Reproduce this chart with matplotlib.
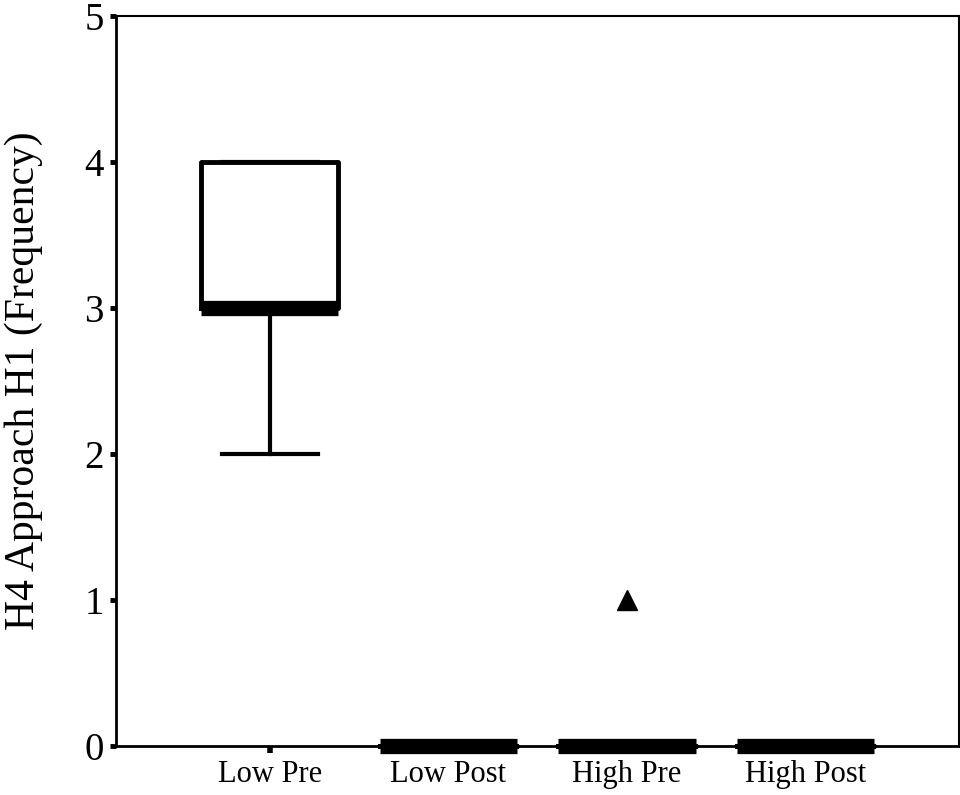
import matplotlib.pyplot as plt

groups = ['Low Pre', 'Low Post', 'High Pre', 'High Post']
q1 = [3, 0, 0, 0]
med = [3, 0, 0, 0]
q3 = [4, 0, 0, 0]
whislo = [2, 0, 0, 0]
whishi = [4, 0, 0, 0]
fliers = [[], [], [1], []]

plt.rcParams['font.family'] = ['Liberation Serif', 'DejaVu Serif']

stats = []
for i in range(len(groups)):
    stats.append({'label': groups[i], 'q1': q1[i], 'med': med[i], 'q3': q3[i],
                  'whislo': whislo[i], 'whishi': whishi[i], 'fliers': fliers[i]})

fig = plt.figure(figsize=(9.6, 7.95), dpi=100)
ax = fig.add_axes([0.121, 0.0616, 0.878, 0.9184])

pos = [1, 2, 3, 4]
bp = ax.bxp(stats, positions=pos, widths=0.77, showfliers=True,
            boxprops=dict(color='k', linewidth=3.5),
            medianprops=dict(color='k', linewidth=11, solid_capstyle='butt'),
            whiskerprops=dict(color='k', linewidth=3.0),
            capprops=dict(color='k', linewidth=3.0),
            capwidths=0.54,
            flierprops=dict(marker='^', markerfacecolor='k', markeredgecolor='k', markersize=14))
# zero-valued groups sit on the bottom spine, keep them unclipped
for key in bp:
    for art in bp[key]:
        art.set_clip_on(False)
        art.set_zorder(3)

ax.set_xlim(0.14, 4.86)
ax.set_ylim(0, 5)
ax.set_yticks([0, 1, 2, 3, 4, 5])
ax.set_xticks(pos)
ax.set_xticklabels(groups)
ax.tick_params(axis='y', direction='out', length=4, width=3.5, labelsize=28, pad=5)
ax.tick_params(axis='x', direction='out', length=5, width=4, labelsize=22, pad=5)
ax.set_ylabel('H4 Approach H1 (Frequency)', fontsize=30)
ax.yaxis.set_label_coords(-0.087, 0.5)

for s in ['left', 'bottom']:
    ax.spines[s].set_linewidth(2)
for s in ['top', 'right']:
    ax.spines[s].set_linewidth(1.5)

plt.savefig('out.png', dpi=100)
